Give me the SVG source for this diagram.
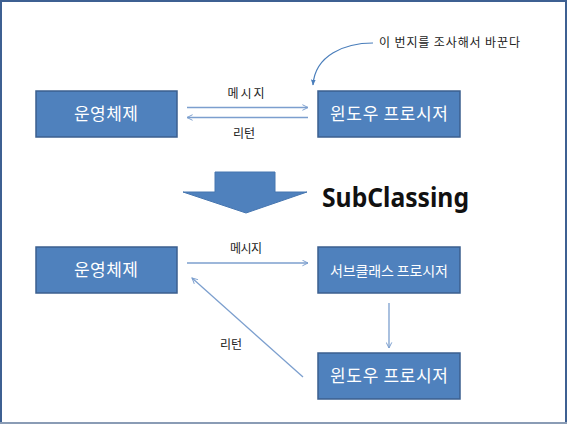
<svg xmlns="http://www.w3.org/2000/svg" width="567" height="424" viewBox="0 0 567 424">
<style>
.box{fill:#4F81BD;stroke:#3B5F8F;stroke-width:1.5}
.lbl{font-family:"Noto Sans CJK KR","Noto Sans",sans-serif;fill:#ffffff;text-anchor:middle}
.small{font-family:"Noto Sans CJK KR","Noto Sans",sans-serif;fill:#222222;font-size:12px}
.conn{fill:none;stroke:#7C9FCE;stroke-width:1.3}
</style>
<defs>
<marker id="open" viewBox="0 0 10 10" refX="9" refY="5" markerWidth="7" markerHeight="7" markerUnits="userSpaceOnUse" orient="auto">
<path d="M1,1 L9,5 L1,9" fill="none" stroke="#7C9FCE" stroke-width="1.4"/>
</marker>
<marker id="solid" viewBox="0 0 10 10" refX="9" refY="5" markerWidth="6" markerHeight="6" markerUnits="userSpaceOnUse" orient="auto">
<path d="M0,1 L10,5 L0,9 Z" fill="#4A7EBB"/>
</marker>
</defs>
<rect x="0" y="0" width="567" height="424" fill="#ffffff"/>
<rect x="1" y="1" width="565" height="422" fill="none" stroke="#3E6092" stroke-width="2"/>
<line x1="0" y1="423" x2="567" y2="423" stroke="#8A9CB5" stroke-width="2"/>

<g id="os-top">
<rect class="box" x="36" y="91" width="141" height="46"/>
<text class="lbl" x="106" y="120" font-size="17" textLength="64" lengthAdjust="spacing">운영체제</text>
</g>
<g id="winproc-top">
<rect class="box" x="318" y="91" width="142" height="46"/>
<text class="lbl" x="389" y="120" font-size="17" textLength="118" lengthAdjust="spacing">윈도우 프로시저</text>
</g>
<g id="note">
<text class="small" x="379" y="47" font-size="13" textLength="141" lengthAdjust="spacing">이 번지를 조사해서 바꾼다</text>
</g>

<g id="bigarrow">
<polygon points="215,172 275,172 275,192 307,192 246,213 183,192 215,192" fill="#4F81BD" stroke="#4676B0" stroke-width="1"/>
</g>
<g id="title">
<text x="322" y="207" font-family="'Noto Sans','Open Sans',sans-serif" font-weight="bold" font-size="27" fill="#111111" textLength="147" lengthAdjust="spacingAndGlyphs">SubClassing</text>
</g>

<g id="os-bottom">
<rect class="box" x="36" y="247" width="141" height="46"/>
<text class="lbl" x="106" y="276" font-size="17" textLength="64" lengthAdjust="spacing">운영체제</text>
</g>
<g id="subproc">
<rect class="box" x="318" y="247" width="142" height="46"/>
<text class="lbl" x="389" y="275.5" font-size="14" textLength="118" lengthAdjust="spacing">서브클래스 프로시저</text>
</g>
<g id="winproc-bottom">
<rect class="box" x="318" y="353" width="142" height="46"/>
<text class="lbl" x="389" y="382" font-size="17" textLength="118" lengthAdjust="spacing">윈도우 프로시저</text>
</g>

<g id="connectors">
<path d="M373,43 C345,43 315,55 313,85" fill="none" stroke="#4A7EBB" stroke-width="1.2" marker-end="url(#solid)"/>
<line class="conn" x1="187" y1="107.5" x2="308" y2="107.5" marker-end="url(#open)"/>
<text class="small" x="246" y="98" text-anchor="middle" textLength="37" lengthAdjust="spacing">메시지</text>
<line class="conn" x1="308" y1="117.5" x2="187" y2="117.5" marker-end="url(#open)"/>
<text class="small" x="244" y="138" text-anchor="middle" textLength="22" lengthAdjust="spacing">리턴</text>

<line class="conn" x1="187" y1="263" x2="308" y2="263" marker-end="url(#open)"/>
<text class="small" x="246" y="253" text-anchor="middle" textLength="32" lengthAdjust="spacing">메시지</text>
<line class="conn" x1="389" y1="303" x2="389" y2="348" marker-end="url(#open)"/>
<line class="conn" x1="303" y1="377" x2="192" y2="278" marker-end="url(#open)"/>
<text class="small" x="231" y="349" text-anchor="middle" textLength="22" lengthAdjust="spacing">리턴</text>
</g>
</svg>
